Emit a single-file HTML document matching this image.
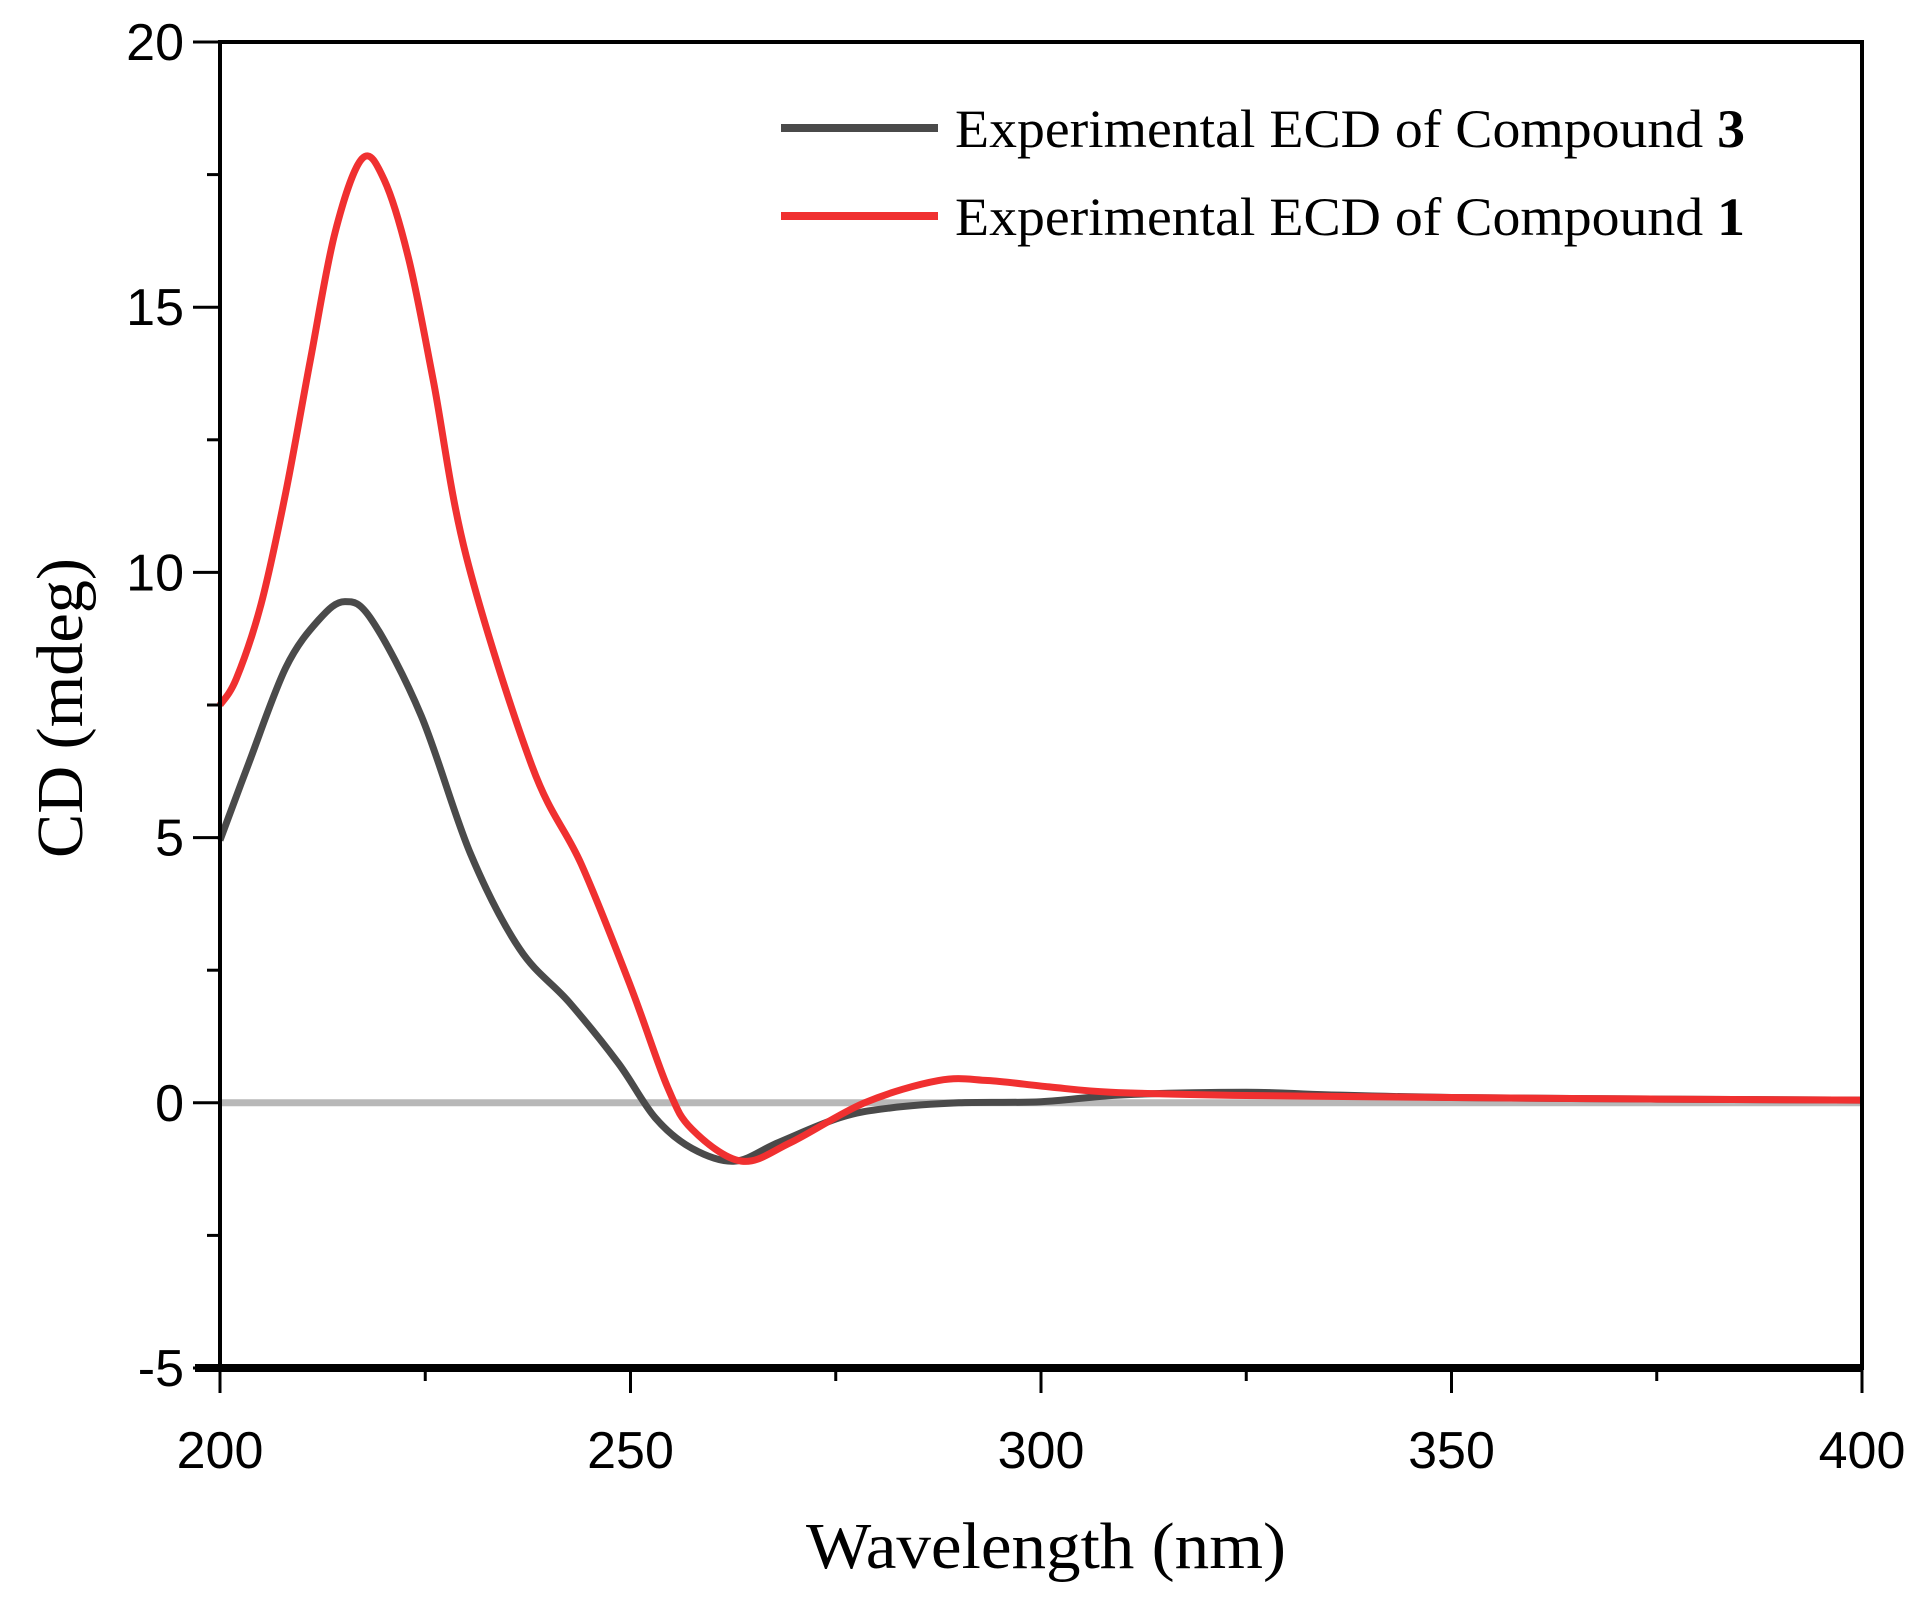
<!DOCTYPE html>
<html><head><meta charset="utf-8"><style>
html,body{margin:0;padding:0;background:#fff;}
svg{display:block;}
</style></head><body>
<svg id="chart" width="1932" height="1601" viewBox="0 0 1932 1601" xmlns="http://www.w3.org/2000/svg">
<g id="plot"></g>
</svg>
<script>
const xTicks = [200, 250, 300, 350, 400];
const yTicks = [-5, 0, 5, 10, 15, 20];
const wl3 = [200,203.5,208,212,215.2,218.5,224.5,230.5,236.5,242.5,248.5,253,257.5,262.7,268,275.5,281.5,290,300,310,325,335,350,375,400];
const cd3 = [4.95,6.4,8.2,9.1,9.45,9.1,7.3,4.7,2.9,1.9,0.75,-0.28,-0.86,-1.1,-0.75,-0.28,-0.1,0,0.02,0.15,0.2,0.15,0.1,0.07,0.05];
const wl1 = [200,202,205,208,211,214,217.3,220,223,226,230,238,244,250,254.5,257.5,263.5,269.5,278.5,287.5,293.5,301,308.5,323.5,350,375,400];
const cd1 = [7.5,8.0,9.4,11.5,14.0,16.4,17.8,17.4,15.9,13.6,10.3,6.35,4.5,2.2,0.3,-0.5,-1.1,-0.75,0,0.42,0.42,0.3,0.2,0.14,0.1,0.07,0.05];

const L=220, R=1862, T=42, B=1368;
const xs = w => L + (w-200)/200*(R-L);
const ys = v => B - (v+5)/25*(B-T);
const NS="http://www.w3.org/2000/svg";
const g=document.getElementById('plot');
function mk(tag, attrs){const e=document.createElementNS(NS,tag);for(const k in attrs)e.setAttribute(k,attrs[k]);g.appendChild(e);return e;}

function smooth(wx, vy){
  const p=wx.map((w,i)=>[xs(w),ys(vy[i])]);
  let d=`M${p[0][0]},${p[0][1]}`;
  for(let i=0;i<p.length-1;i++){
    const p0=p[Math.max(0,i-1)],p1=p[i],p2=p[i+1],p3=p[Math.min(p.length-1,i+2)];
    const c1=[p1[0]+(p2[0]-p0[0])/6,p1[1]+(p2[1]-p0[1])/6];
    const c2=[p2[0]-(p3[0]-p1[0])/6,p2[1]-(p3[1]-p1[1])/6];
    d+=` C${c1[0]},${c1[1]} ${c2[0]},${c2[1]} ${p2[0]},${p2[1]}`;
  }
  return d;
}

let zl=mk('line',{x1:L,x2:R,y1:ys(0),y2:ys(0),stroke:'#b8b8b8','stroke-width':7});



let s3=mk('path',{d:smooth(wl3,cd3),fill:'none',stroke:'#4a4a4a','stroke-width':7,'stroke-linejoin':'round'});


let s1=mk('path',{d:smooth(wl1,cd1),fill:'none',stroke:'#f03030','stroke-width':7,'stroke-linejoin':'round'});



let fr=mk('rect',{x:L,y:T,width:R-L,height:B-T,fill:'none',stroke:'#000','stroke-width':4});


let bx=mk('line',{x1:L-25,x2:R,y1:B,y2:B,stroke:'#000','stroke-width':8});



xTicks.forEach((t,i)=>{
  const x=xs(t);
  let tk=mk('line',{x1:x,x2:x,y1:B,y2:B+25,stroke:'#000','stroke-width':3});
  
  
  let lb=mk('text',{x:x,y:B+100,'text-anchor':'middle','font-family':'Liberation Sans, sans-serif','font-size':52});
  lb.textContent=t;
  
  
  if(i<xTicks.length-1){
    const xm=xs(t+25);
    let mt=mk('line',{x1:xm,x2:xm,y1:B,y2:B+13,stroke:'#000','stroke-width':3});
    
    
  }
});
yTicks.forEach((t,i)=>{
  const y=ys(t);
  let tk=mk('line',{x1:L-27,x2:L,y1:y,y2:y,stroke:'#000','stroke-width':3});
  
  
  let lb=mk('text',{x:L-36,y:y+18,'text-anchor':'end','font-family':'Liberation Sans, sans-serif','font-size':52});
  lb.textContent=t;
  
  
  if(i<yTicks.length-1){
    const ym=ys(t+2.5);
    let mt=mk('line',{x1:L-13,x2:L,y1:ym,y2:ym,stroke:'#000','stroke-width':3});
    
    
  }
});

let xl=mk('text',{x:1046,y:1568,'text-anchor':'middle','font-family':'Liberation Serif, serif','font-size':66,textLength:480,lengthAdjust:'spacingAndGlyphs'});
xl.textContent='Wavelength (nm)';


let yl=mk('text',{x:0,y:0,'text-anchor':'middle','font-family':'Liberation Serif, serif','font-size':66,textLength:300,lengthAdjust:'spacingAndGlyphs',transform:'translate(82,708) rotate(-90)'});
yl.textContent='CD (mdeg)';



const legend=[['Experimental ECD of Compound ','3','#4a4a4a',128],['Experimental ECD of Compound ','1','#f03030',216]];
legend.forEach(([txt,num,col,y])=>{
  let ln=mk('line',{x1:781,x2:938,y1:y,y2:y,stroke:col,'stroke-width':8});
  
  
  let tx=mk('text',{x:955,y:y+19,'font-family':'Liberation Serif, serif','font-size':54,textLength:790,lengthAdjust:'spacingAndGlyphs'});
  tx.textContent=txt;
  const b=document.createElementNS(NS,'tspan');
  b.setAttribute('font-weight','bold');
  b.textContent=num;
  tx.appendChild(b);
  
  
});
</script>
</body></html>
